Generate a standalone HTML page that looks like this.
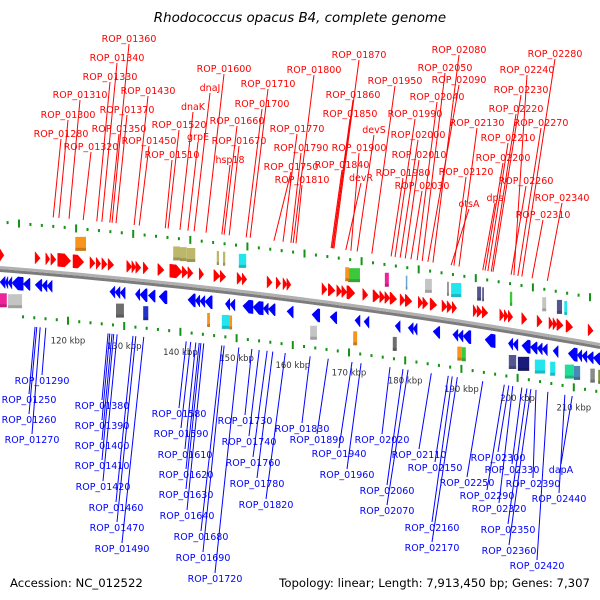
<!DOCTYPE html>
<html><head><meta charset="utf-8">
<style>
html,body{margin:0;padding:0;background:#fff;}
svg{display:block;font-family:"DejaVu Sans","Liberation Sans",sans-serif;}
</style></head>
<body>
<svg id="map" width="600" height="600" viewBox="0 0 600 600" xmlns="http://www.w3.org/2000/svg">
<text x="300" y="22" text-anchor="middle" font-size="13.4" font-style="italic" fill="#000">Rhodococcus opacus B4, complete genome</text>
<text x="10" y="587" font-size="11.7" fill="#000">Accession: NC_012522</text>
<text x="590" y="587" text-anchor="end" font-size="11.7" fill="#000">Topology: linear; Length: 7,913,450 bp; Genes: 7,307</text>
<g id="ticks"></g><g id="lines"></g><g id="backbone"></g><g id="genes"></g><g id="labels"></g>
</svg>
<script>
// ---- data (positions in kbp) ----
const tickKbp = [120,130,140,150,160,170,180,190,200,210];
const tickLabels = ["120 kbp","130 kbp","140 kbp","150 kbp","160 kbp","170 kbp","180 kbp","190 kbp","200 kbp","210 kbp"];
const fwdStart = [112.4,118.6,120.5,121.4,122.6,125.3,128.3,129.4,130.4,131.5,134.8,135.7,136.4,137.7,140.3,142.4,144.6,145.6,147.6,150.2,151.3,154.3,155.2,159.6,161.2,162.4,163.1,169.3,170.4,171.9,172.8,173.7,176.5,178.3,179.5,180.4,181.3,183.1,184.0,186.3,187.1,188.4,190.5,191.4,192.3,196.0,196.7,197.6,200.7,201.5,202.2,204.6,207.3,209.4,210.1,210.8,212.4,216.3];
const fwdEnd   = [113.1,119.5,121.2,122.3,124.9,127.2,129.2,130.2,131.3,132.5,135.7,136.4,137.3,138.6,141.4,144.6,145.6,146.5,148.4,151.3,152.3,155.2,156.0,160.5,162.0,163.1,163.8,170.2,171.6,172.8,173.7,175.1,177.4,179.5,180.4,181.3,182.5,184.0,185.2,187.1,188.0,189.6,191.4,192.3,193.1,196.7,197.6,198.6,201.5,202.2,203.0,205.5,208.2,210.1,210.8,211.9,213.6,217.2];
const revStart = [112.4,113.3,113.8,114.5,116.5,118.6,119.8,120.7,131.8,132.7,133.6,136.3,137.1,138.6,140.5,145.6,146.9,147.7,148.6,152.2,153.0,155.3,157.1,158.9,159.8,163.1,167.5,170.7,175.1,176.7,182.2,184.5,185.4,188.9,192.4,193.3,194.2,198.1,202.2,203.0,204.6,206.1,207.3,208.2,210.1,212.8,214.4,215.2,216.1,217.2];
const revEnd   = [113.3,113.8,114.5,116.5,117.7,119.8,120.7,121.6,132.7,133.6,134.5,137.1,138.4,139.8,141.9,146.9,147.7,148.6,149.9,153.0,153.9,157.1,158.9,159.8,161.0,164.2,168.9,171.9,176.0,177.6,183.1,185.4,186.1,190.1,193.3,194.2,195.6,199.9,203.0,203.9,206.1,207.3,208.2,209.1,211.0,214.4,215.2,216.1,217.2,218.4];
const featStart = [125.7,143.0,144.2,145.4,150.7,151.8,154.6,173.9,173.4,180.4,184.1,187.5,191.4,192.1,196.7,197.6,202.5,208.2,210.8,212.1,
                   112.4,113.8,132.9,137.7,149.0,151.6,152.9,167.2,174.8,181.8,193.2,194.0,202.3,203.9,206.9,209.6,212.2,213.8,216.7,218.1];
const featEnd   = [127.6,144.2,145.4,146.9,151.1,152.2,155.9,176.0,174.1,181.1,184.3,188.7,191.7,193.9,197.4,197.9,202.9,208.9,211.7,212.6,
                   113.6,116.3,134.3,138.6,149.5,152.9,153.4,168.4,175.5,182.5,194.0,194.7,203.6,205.9,208.7,210.5,213.8,214.9,217.5,218.4];
const featStrand = ["u","u","u","u","u","u","u","u","u","u","u","u","u","u","u","u","u","u","u","u",
                    "l","l","l","l","l","l","l","l","l","l","l","l","l","l","l","l","l","l","l","l"];
const featType = ["orange","khaki","khaki","khaki","khaki","khaki","cyan","green","orange","magenta","lblue","lgrey","grey","cyan","slate","slate","green","lgrey","slate","cyan",
                  "magenta","lgrey","dgrey","greyblue","orange","cyan","orange","lgrey","orange","dgrey","orange","green","slate","navy","cyan","cyan","teal","steel","grey","olive"];
const topNames = ["ROP_01280","ROP_01300","ROP_01310","ROP_01320","ROP_01330","ROP_01340","ROP_01350","ROP_01360","ROP_01370","ROP_01430","ROP_01450","ROP_01510","ROP_01520","dnaK","grpE","dnaJ","ROP_01600","hsp18","ROP_01660","ROP_01670","ROP_01700","ROP_01710","ROP_01750","ROP_01770","ROP_01790","ROP_01800","ROP_01810","ROP_01840","ROP_01850","ROP_01860","ROP_01870","devR","ROP_01900","devS","ROP_01950","ROP_01980","ROP_01990","ROP_02000","ROP_02010","ROP_02030","ROP_02040","ROP_02050","ROP_02090","ROP_02080","otsA","ROP_02120","ROP_02130","dps","ROP_02200","ROP_02210","ROP_02220","ROP_02230","ROP_02260","ROP_02240","ROP_02270","ROP_02280","ROP_02310","ROP_02340"];
const topGeneKbp = [121.8,122.8,124.6,127.1,129.5,130.4,131.8,132.2,132.9,136.1,137.0,141.6,142.1,144.2,145.6,146.7,148.8,151.6,152.0,152.9,155.9,156.6,160.8,162.4,163.8,164.2,164.7,170.9,171.1,171.2,171.4,173.5,174.4,175.5,178.1,181.5,182.2,183.1,184.0,185.0,186.1,187.0,188.0,188.9,192.1,192.6,193.5,197.7,198.1,198.6,199.2,199.5,202.7,203.2,203.9,204.6,206.4,209.1];
const topLabelX = [61,68,80,91,110,117,119,129,127,148,149,172,179,193,198,210,224,230,237,239,262,268,291,297,301,314,302,342,350,353,359,361,359,374,395,403,415,418,419,422,437,445,459,459,469,466,477,495,503,508,516,521,526,527,541,555,543,562];
const topLabelY = [137,118,98,150,80,61,132,42,113,94,144,158,128,110,140,91,72,163,124,144,107,87,170,132,151,73,183,168,117,98,58,181,151,133,84,176,117,138,158,189,100,71,83,53,207,175,126,201,161,141,112,93,184,73,126,57,218,201];
const botNames = ["ROP_01290","ROP_01250","ROP_01260","ROP_01270","ROP_01380","ROP_01390","ROP_01400","ROP_01410","ROP_01420","ROP_01460","ROP_01470","ROP_01490","ROP_01580","ROP_01590","ROP_01610","ROP_01620","ROP_01630","ROP_01640","ROP_01680","ROP_01690","ROP_01720","ROP_01730","ROP_01740","ROP_01760","ROP_01780","ROP_01820","ROP_01830","ROP_01890","ROP_01940","ROP_01960","ROP_02020","ROP_02060","ROP_02070","ROP_02110","ROP_02150","ROP_02160","ROP_02170","ROP_02250","ROP_02290","ROP_02300","ROP_02320","ROP_02330","ROP_02350","ROP_02360","ROP_02390","ROP_02420","ROP_02440","dapA"];
const botGeneKbp = [120.5,118.6,118.9,119.5,131.5,131.8,132.2,132.5,133.1,135.9,136.4,137.8,145.3,146.1,147.0,147.6,147.9,148.4,151.6,152.0,154.6,156.9,158.2,159.6,160.6,162.8,167.2,170.4,174.6,176.2,181.3,183.6,184.5,188.6,191.6,192.3,193.2,197.7,201.5,202.3,203.0,204.6,205.5,206.2,207.1,209.2,212.2,213.5];
const botLabelX = [42,29,29,32,102,102,102,102,103,116,117,122,179,181,185,186,186,187,201,203,215,245,249,253,257,266,302,317,339,347,382,387,387,419,435,432,432,467,487,498,499,512,508,509,533,537,559,561];
const botLabelY = [384,403,423,443,409,429,449,469,490,511,531,552,417,437,458,478,498,519,540,561,582,424,445,466,487,508,432,443,457,478,443,494,514,458,471,531,551,486,499,461,512,473,533,554,487,569,502,473];

// ---- axis / geometry ----
const NS = "http://www.w3.org/2000/svg";
function xOf(k){ return 43 + (k - 120) * 5.66; }
function bb(x){ return 269 + 0.0783 * x + 0.0000833 * x * x; }
function xTopTick(k){ return 19 + (k - 120) * 5.71; }
function xBotTick(k){ return 68 + (k - 120) * 5.62; }
const palette = {orange:"#f7941d",khaki:"#bdb76b",cyan:"#22e5ee",green:"#3cc83c",magenta:"#ee2299",lblue:"#6aa5d8",lgrey:"#c4c4c4",grey:"#8a8a8a",dgrey:"#6e6e6e",slate:"#55558f",navy:"#1a1a7a",greyblue:"#2233cc",teal:"#22dd99",steel:"#4a88b8",olive:"#7a8a30"};
function mk(tag, attrs, parent){ const e=document.createElementNS(NS,tag); for(const k in attrs) e.setAttribute(k,attrs[k]); parent.appendChild(e); return e; }

const gT=document.getElementById('ticks'), gL=document.getElementById('lines'), gB=document.getElementById('backbone'), gG=document.getElementById('genes'), gX=document.getElementById('labels');

// dotted scale lines
for(let k=112; k<=220; k+=2){
  const major = (k % 10 === 0);
  [[xTopTick(k), -47,'top'],[xBotTick(k), 46,'bottom']].forEach(([x,off,side])=>{
    if(x<-2||x>602) return;
    const y=bb(x)+off;
    const r=mk('rect',{x:x-1,y:major?y-4:y-1.5,width:2,height:major?8:3,fill:'#159315'},gT);
    
    
  });
}
tickKbp.forEach((k,i)=>{
  const x=xBotTick(k);
  const t=mk('text',{x:x,y:bb(x)+69,'text-anchor':'middle','font-size':'8.5',fill:'#333'},gT);
  t.textContent=tickLabels[i];
  
  
});

// backbone
{
  let p1=[],p2=[];
  for(let x=0;x<=600;x+=10){p1.push(x+','+(bb(x)-1.5).toFixed(1)); p2.push(x+','+(bb(x)+1.5).toFixed(1));}
  const a=mk('polyline',{points:p2.join(' '),fill:'none',stroke:'#7c7c7c','stroke-width':3},gB);
  
  
  const b=mk('polyline',{points:p1.join(' '),fill:'none',stroke:'#b0b0b0','stroke-width':3},gB);
  
  
}

// label lines + labels
topNames.forEach((n,i)=>{
  const gx=xOf(topGeneKbp[i]);
  const l=mk('line',{x1:topLabelX[i],y1:topLabelY[i]+2,x2:gx,y2:bb(gx)-56,stroke:'#ff0000','stroke-width':1},gL);
  
  
  const t=mk('text',{x:topLabelX[i],y:topLabelY[i],'text-anchor':'middle','font-size':'9.5',fill:'#ff0000'},gX);
  t.textContent=n;
  
  
});
botNames.forEach((n,i)=>{
  const gx=xOf(botGeneKbp[i]);
  const l=mk('line',{x1:gx,y1:bb(gx)+55,x2:botLabelX[i],y2:botLabelY[i]-9,stroke:'#0000ff','stroke-width':1},gL);
  
  
  const t=mk('text',{x:botLabelX[i],y:botLabelY[i],'text-anchor':'middle','font-size':'9.5',fill:'#0000ff'},gX);
  t.textContent=n;
  
  
});

// genes
function arrow(s,e,dir,off,color,name){
  const x0=xOf(s), x1=xOf(e), len=x1-x0, h=len>7?6.5:6, head=Math.min(len,6);
  let pts;
  if(dir>0){
    const ym0=bb(x0)+off, ym1=bb(x1)+off, xh=x1-head, yh=bb(xh)+off;
    pts=[[x0,ym0-h],[xh,yh-h],[x1,ym1],[xh,yh+h],[x0,ym0+h]];
  } else {
    const ym0=bb(x0)+off, ym1=bb(x1)+off, xh=x0+head, yh=bb(xh)+off;
    pts=[[x0,ym0],[xh,yh-h],[x1,ym1-h],[x1,ym1+h],[xh,yh+h]];
  }
  const p=mk('polygon',{points:pts.map(q=>q[0].toFixed(1)+','+q[1].toFixed(1)).join(' '),fill:color,stroke:color,'stroke-width':0.5},gG);
  
  
}
fwdStart.forEach((s,i)=>arrow(s,fwdEnd[i],1,-14,'#ff0000','forward-gene'));
revStart.forEach((s,i)=>arrow(s,revEnd[i],-1,13,'#0000ff','reverse-gene'));
featStart.forEach((s,i)=>{
  const x0=xOf(s), x1=xOf(featEnd[i]), xc=(x0+x1)/2;
  const yc=bb(xc)+(featStrand[i]==='u'?-32:31);
  const c=palette[featType[i]];
  const r=mk('rect',{x:x0,y:yc-7,width:Math.max(1.5,x1-x0),height:14,fill:c},gG);
  
  
  const sh=mk('rect',{x:x0,y:yc+4,width:Math.max(1.5,x1-x0),height:3,fill:'#000','fill-opacity':0.18},gG);
  
  
});
</script>
</body></html>
